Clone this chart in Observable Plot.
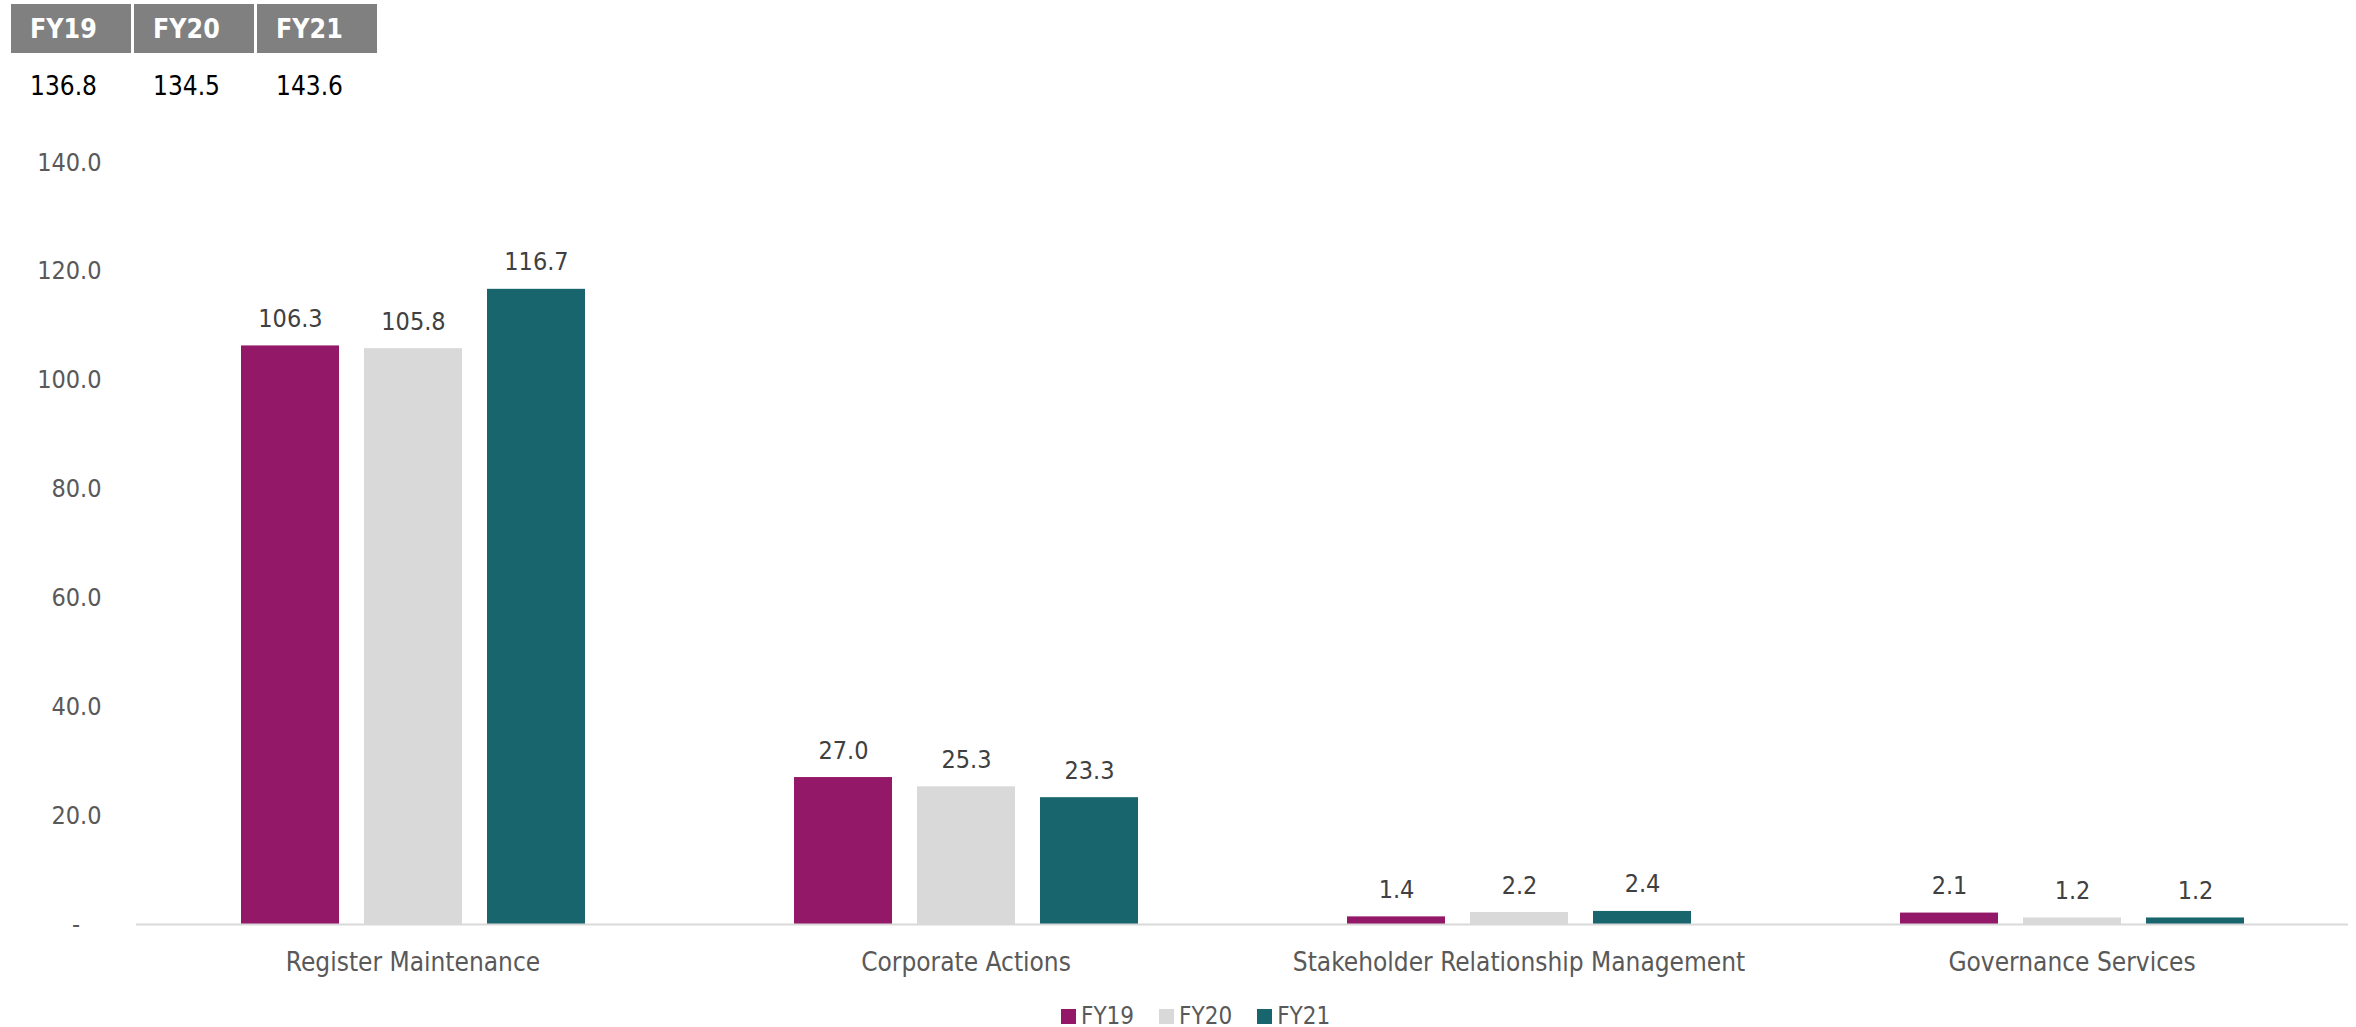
<!DOCTYPE html>
<html>
<head>
<meta charset="utf-8">
<script src="https://cdn.jsdelivr.net/npm/d3@7"></script>
<script src="https://cdn.jsdelivr.net/npm/@observablehq/plot@0.6"></script>
<style>
  html, body { margin: 0; padding: 0; background: #fff; }
  body { width: 2356px; height: 1027px; position: relative; overflow: hidden;
         font-family: "DejaVu Sans Condensed", "DejaVu Sans", sans-serif; }
  #header { position: relative; height: 110px; }
  .hbox { position: absolute; top: 4px; width: 120px; height: 49px; background: #808080;
          color: #fff; font-weight: bold; font-size: 26.5px; line-height: 49px; box-sizing: border-box; padding-left: 19px; }
  .hval { position: absolute; top: 70px; font-size: 26px; color: #000; line-height: 32px; }
  #legend { position: absolute; top: 996px; left: 1061px; height: 40px; display: flex; align-items: center;
            font-size: 24px; color: #595959; }
  .sw { width: 15px; height: 15px; margin-right: 5px; }
  .li { display: flex; align-items: center; margin-right: 25px; }
</style>
</head>
<body>
<div id="header"></div>
<div id="chart"></div>
<div id="legend"></div>
<script>
const categories = ["Register Maintenance", "Corporate Actions", "Stakeholder Relationship Management", "Governance Services"];
const years = ["FY19", "FY20", "FY21"];
const fy19 = [106.3, 27.0, 1.4, 2.1];
const fy20 = [105.8, 25.3, 2.2, 1.2];
const fy21 = [116.7, 23.3, 2.4, 1.2];
const totals = [136.8, 134.5, 143.6];
const yTicks = [0, 20, 40, 60, 80, 100, 120, 140];
const colors = ["#941868", "#d9d9d9", "#18656e"];

const series = [fy19, fy20, fy21];
const data = [];
categories.forEach((c, i) => years.forEach((y, j) => data.push({category: c, year: y, value: series[j][i]})));

// header table
const header = document.getElementById("header");
years.forEach((y, j) => {
  const b = document.createElement("div");
  b.className = "hbox"; b.style.left = (11 + j * 123) + "px"; b.textContent = y;
  header.appendChild(b);
  const v = document.createElement("div");
  v.className = "hval"; v.style.left = (30 + j * 123) + "px"; v.textContent = totals[j].toFixed(1);
  header.appendChild(v);
});

const chart = Plot.plot({
  width: 2356,
  height: 880,
  marginTop: 52,
  marginBottom: 66,
  marginLeft: 135,
  marginRight: 8,
  style: {fontSize: "25px", fontFamily: "'DejaVu Sans Condensed', 'DejaVu Sans', sans-serif", color: "#595959", background: "#fff"},
  fx: {domain: categories, padding: 0, axis: "bottom", tickSize: 0, tickPadding: 28, label: null},
  x: {domain: years, paddingInner: 0.205, paddingOuter: 0.85, axis: null},
  y: {domain: [0, 140], ticks: yTicks, tickSize: 0, tickPadding: 35, label: null,
      tickFormat: d => d === 0 ? "-\u00a0\u00a0\u00a0" : d.toFixed(1)},
  color: {domain: years, range: colors},
  marks: [
    Plot.barY(data, {fx: "category", x: "year", y: "value", fill: "year"}),
    Plot.ruleY([0], {stroke: "#d9d9d9", strokeWidth: 2}),
    Plot.text(data, {fx: "category", x: "year", y: "value", text: d => d.value.toFixed(1),
      dy: -27, lineAnchor: "middle", fill: "#404040", fontSize: 25})
  ]
});
chart.querySelectorAll("g[aria-label='fx-axis tick label'] text, g[aria-label='fx-axis'] text").forEach(t => t.style.fontSize = "26px");
document.getElementById("chart").appendChild(chart);

// legend
const legend = document.getElementById("legend");
years.forEach((y, j) => {
  const it = document.createElement("div"); it.className = "li";
  const s = document.createElement("div"); s.className = "sw"; s.style.background = colors[j];
  const t = document.createElement("span"); t.textContent = y;
  it.appendChild(s); it.appendChild(t); legend.appendChild(it);
});
</script>
</body>
</html>
